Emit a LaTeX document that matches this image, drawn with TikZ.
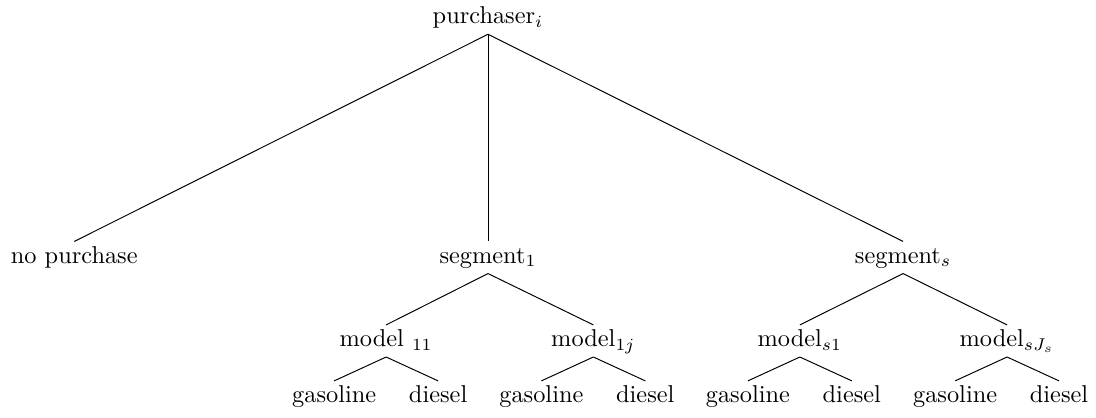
\documentclass[tikz,border=0pt]{standalone}
\usepackage{amsmath}
\usetikzlibrary{positioning}

\begin{document}
\begin{tikzpicture}[every node/.style={font=\normalsize, anchor=base, text height=1.5ex, text depth=0.4ex, inner ysep=2.3pt}, branch/.style={draw=black, thin}]
  \useasboundingbox (-7.042,0.346) rectangle (8.773,-5.685);

  \node (buyer) at (0,0) {purchaser$_i$};

  \node (nobuy) at (-5.97,-3.453) {no purchase};
  \node (seg1) at (0,-3.453) {segment$_1$};
  \node (segS) at (5.99,-3.453) {segment$_s$};

  \node (m11) at (-1.47,-4.657) {model $_{11}$};
  \node (m1j) at (1.52,-4.657) {model$_{1j}$};
  \node (ms1) at (4.50,-4.657) {model$_{s1}$};
  \node (msJ) at (7.49,-4.657) {model$_{sJ_s}$};

  \node (g11) at (-2.22,-5.465) {gasoline};
  \node (d11) at (-0.72,-5.465) {diesel};
  \node (g1j) at (0.77,-5.465) {gasoline};
  \node (d1j) at (2.27,-5.465) {diesel};
  \node (gs1) at (3.75,-5.465) {gasoline};
  \node (ds1) at (5.25,-5.465) {diesel};
  \node (gsJ) at (6.74,-5.465) {gasoline};
  \node (dsJ) at (8.24,-5.465) {diesel};

  \draw[branch] (buyer.south) -- (nobuy.north);
  \draw[branch] (buyer.south) -- (seg1.north);
  \draw[branch] (buyer.south) -- (segS.north);

  \draw[branch] (seg1.south) -- (m11.north);
  \draw[branch] (seg1.south) -- (m1j.north);
  \draw[branch] (segS.south) -- (ms1.north);
  \draw[branch] (segS.south) -- (msJ.north);

  \draw[branch] (m11.south) -- (g11.north);
  \draw[branch] (m11.south) -- (d11.north);
  \draw[branch] (m1j.south) -- (g1j.north);
  \draw[branch] (m1j.south) -- (d1j.north);
  \draw[branch] (ms1.south) -- (gs1.north);
  \draw[branch] (ms1.south) -- (ds1.north);
  \draw[branch] (msJ.south) -- (gsJ.north);
  \draw[branch] (msJ.south) -- (dsJ.north);
\end{tikzpicture}
\end{document}
